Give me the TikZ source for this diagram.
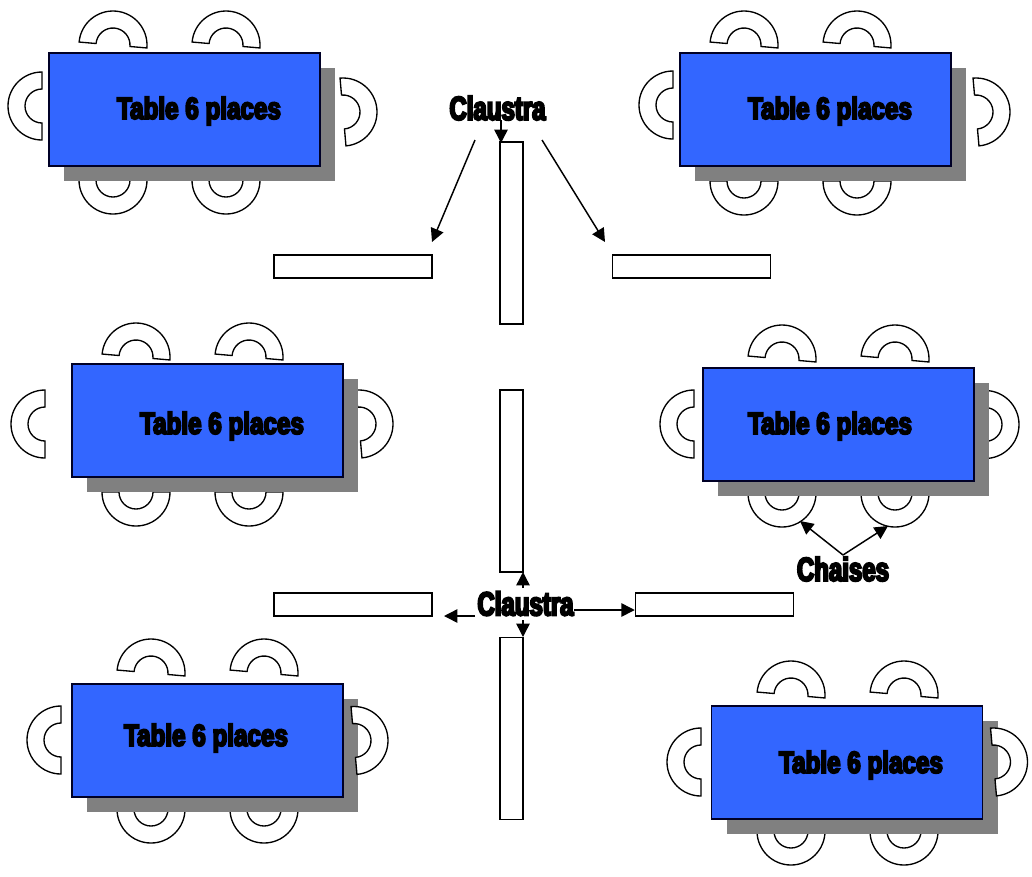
\documentclass[tikz,border=0pt]{standalone}
\usepackage{fontspec}
\usetikzlibrary{arrows.meta,shadows}
\newfontfamily\tablefont[BoldFeatures={FakeBold=6,FakeStretch=0.79}]{Liberation Sans}
\newfontfamily\calloutfont[BoldFeatures={FakeBold=6,FakeStretch=0.72}]{Liberation Sans}
\definecolor{tableblue}{RGB}{51,102,255}
\definecolor{shadowgray}{RGB}{128,128,128}
\tikzset{
    chair/.pic={\draw[chairline] (-34,0) arc (180:360:34) -- (17,0) arc (360:180:17) -- cycle;}
}
\begin{document}
\begin{tikzpicture}[x=0.75pt, y=-0.75pt, arrow/.style={-{Triangle[length=10pt,width=10pt]},line width=1.1pt}, chairline/.style={draw=black, fill=white, line width=1pt}, tablebox/.style={rectangle, draw=black!85!blue, line width=1.1pt, fill=tableblue, inner sep=0pt, minimum width=203.25pt, minimum height=84.75pt, drop shadow={shadow xshift=11.25pt, shadow yshift=-11.25pt, fill=shadowgray, opacity=1}}, wallh/.style={rectangle, draw, line width=1.1pt, fill=white, inner sep=0pt, minimum width=118.5pt, minimum height=17.25pt}, wallv/.style={rectangle, draw, line width=1.1pt, fill=white, inner sep=0pt, minimum width=17.25pt, minimum height=136.5pt}, tablelabel/.style={font=\tablefont\bfseries\fontsize{23}{25}\selectfont, inner sep=0pt}, calloutlabel/.style={font=\calloutfont\bfseries\fontsize{25}{28}\selectfont, inner sep=0pt}]

        \useasboundingbox (0,0) rectangle (1032,876);

        % top left table
        \pic[rotate=-5] at (113,45) {chair};
        \pic[rotate=-5] at (226,45) {chair};
        \pic[rotate=180] at (113,180) {chair};
        \pic[rotate=180] at (226,180) {chair};
        \pic[rotate=90] at (42,106) {chair};
        \pic[rotate=-85] at (343,112) {chair};
        \node [tablebox] (table1) at (184.5,109.5) {};
        \node [tablelabel] (label1) at (199,111) {Table 6 places};

        % middle left table
        \pic[rotate=-5] at (136,357) {chair};
        \pic[rotate=-5] at (249,357) {chair};
        \pic[rotate=180] at (136,492) {chair};
        \pic[rotate=180] at (249,492) {chair};
        \pic[rotate=90] at (45,424) {chair};
        \pic[rotate=-85] at (359,424) {chair};
        \node [tablebox] (table2) at (207.5,420.5) {};
        \node [tablelabel] (label2) at (222,426) {Table 6 places};

        % bottom left table
        \pic[rotate=-5] at (151,673) {chair};
        \pic[rotate=-5] at (264,673) {chair};
        \pic[rotate=180] at (151,809) {chair};
        \pic[rotate=180] at (264,809) {chair};
        \pic[rotate=90] at (61,740) {chair};
        \node [tablebox] (table3) at (207.5,740.5) {};
        \pic[rotate=-85] at (354,740.5) {chair};
        \node [tablelabel] (label3) at (206,738) {Table 6 places};

        % top right table
        \pic[rotate=-5] at (744,45) {chair};
        \pic[rotate=-5] at (857,45) {chair};
        \pic[rotate=180] at (744,181) {chair};
        \pic[rotate=180] at (857,181) {chair};
        \pic[rotate=90] at (673,105) {chair};
        \pic[rotate=-85] at (976,112) {chair};
        \node [tablebox] (table4) at (815.5,109.5) {};
        \node [tablelabel] (label4) at (830,111) {Table 6 places};

        % middle right table
        \pic[rotate=-5] at (782,359) {chair};
        \pic[rotate=-5] at (895,359) {chair};
        \pic[rotate=180] at (782,493) {chair};
        \pic[rotate=180] at (895,493) {chair};
        \pic[rotate=90] at (694,424) {chair};
        \pic[rotate=-90] at (985,424.5) {chair};
        \node [tablebox] (table5) at (838.5,424.5) {};
        \node [tablelabel] (label5) at (830,426) {Table 6 places};

        % bottom right table
        \pic[rotate=-5] at (791,695) {chair};
        \pic[rotate=-5] at (904,695) {chair};
        \pic[rotate=180] at (791,831) {chair};
        \pic[rotate=180] at (904,831) {chair};
        \pic[rotate=90] at (701,762) {chair};
        \node [tablebox] (table6) at (847,762.5) {};
        \pic[rotate=-85] at (993.5,762) {chair};
        \node [tablelabel] (label6) at (861,765) {Table 6 places};

        % partitions
        \node [wallv] (wallcentertop) at (511.5,233) {};
        \node [wallv] (wallcentermid) at (511.5,481) {};
        \node [wallv] (wallcenterbot) at (511.5,728.5) {};
        \node [wallh] (walltopleft) at (353,266.5) {};
        \node [wallh] (walltopright) at (691.5,266.5) {};
        \node [wallh] (wallbotleft) at (353,604.5) {};
        \node [wallh] (wallbotright) at (714.5,604.5) {};

        \node [calloutlabel] (claustratop) at (497.5,108) {Claustra};
        \node [calloutlabel] (claustrabot) at (525.5,603.5) {Claustra};
        \node [calloutlabel] (chaises) at (843,569) {Chaises};

        \coordinate (topleftstart) at (475,140);
        \coordinate (topleftend) at (432,242);
        \coordinate (toprightstart) at (542,140);
        \coordinate (toprightend) at (605,242);
        \coordinate (topmidstart) at (501,120);
        \coordinate (topmidend) at (501,143);
        \coordinate (botupstart) at (523,588);
        \coordinate (botupend) at (523,572);
        \coordinate (botdownstart) at (523,620);
        \coordinate (botdownend) at (523,637);
        \coordinate (botleftstart) at (475,616);
        \coordinate (botleftend) at (444,616);
        \coordinate (botrightstart) at (574,610);
        \coordinate (chairleft) at (800,521);
        \coordinate (chairright) at (888,526);
        \coordinate (chaisestop) at (843,555);

        \draw[arrow] (topleftstart) -- (topleftend);
        \draw[arrow] (toprightstart) -- (toprightend);
        \draw[arrow] (topmidstart) -- (topmidend);
        \draw[arrow] (botupstart) -- (botupend);
        \draw[arrow] (botdownstart) -- (botdownend);
        \draw[arrow] (botleftstart) -- (botleftend);
        \draw[arrow] (botrightstart) -- (wallbotright.west |- botrightstart);
        \draw[arrow] (chaisestop) -- (chairleft);
        \draw[arrow] (chaisestop) -- (chairright);

    \end{tikzpicture}
\end{document}
